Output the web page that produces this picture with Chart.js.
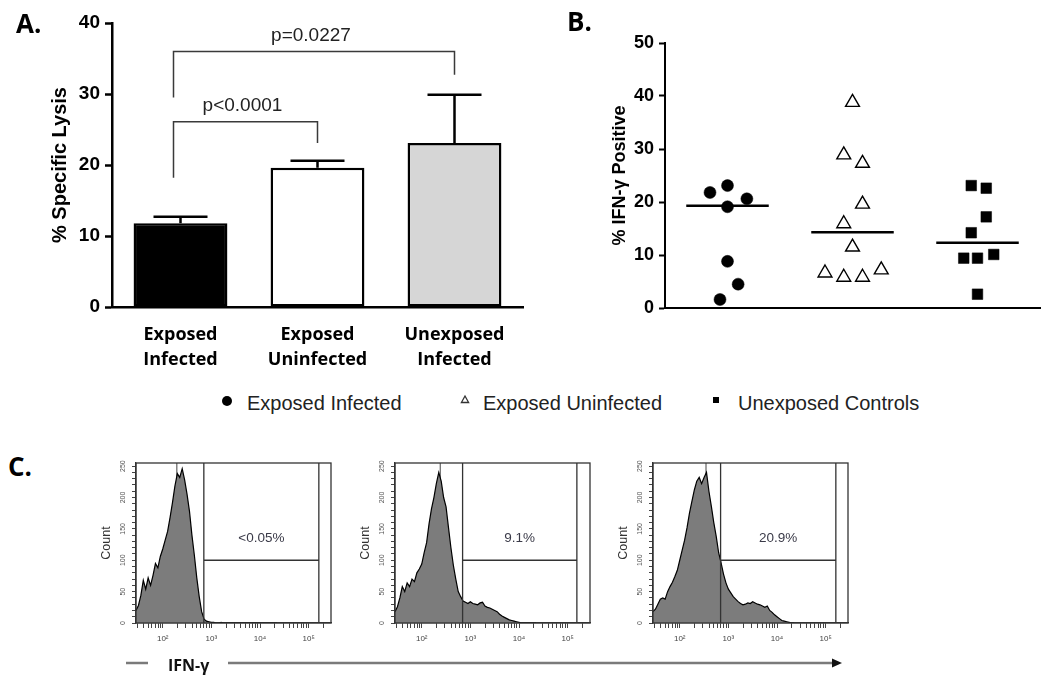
<!DOCTYPE html>
<html><head><meta charset="utf-8">
<script src="https://cdn.jsdelivr.net/npm/chart.js@4.4.0/dist/chart.umd.min.js"></script>
<style>
html,body{margin:0;padding:0;background:#fff;}
body{width:1050px;height:689px;overflow:hidden;position:relative;}
canvas{position:absolute;}
.pl{position:absolute;font-family:"Open Sans",sans-serif;font-weight:700;font-size:26px;line-height:26px;color:#000;}
.leg{position:absolute;font-family:"Liberation Sans",Arial,sans-serif;font-size:20px;line-height:20px;color:#222;white-space:nowrap;}
.ifn{position:absolute;font-family:"Open Sans",sans-serif;font-weight:700;font-size:16px;line-height:20px;color:#111;white-space:nowrap;}
</style></head><body>
<canvas id="cA" width="540" height="380" style="left:0;top:0;width:540px;height:380px"></canvas>
<canvas id="cB" width="510" height="380" style="left:540px;top:0;width:510px;height:380px"></canvas>
<canvas id="cH0" width="260" height="205" style="left:90px;top:450px;width:260px;height:205px"></canvas>
<canvas id="cH1" width="260" height="205" style="left:349px;top:450px;width:260px;height:205px"></canvas>
<canvas id="cH2" width="260" height="205" style="left:607px;top:450px;width:260px;height:205px"></canvas>

<div class="pl" style="left:16px;top:10px">A.</div>
<div class="pl" style="left:567px;top:8px">B.</div>
<div class="pl" style="left:8px;top:453px">C.</div>

<svg style="position:absolute;left:0;top:385px" width="1050" height="30">
  <circle cx="227" cy="16" r="5" fill="#000"/>
  <polygon points="465,11 468.6,17.5 461.4,17.5" fill="#fff" stroke="#333" stroke-width="1.3"/>
  <rect x="713" y="12" width="6" height="6" fill="#000"/>
</svg>
<div class="leg" style="left:247px;top:393px">Exposed Infected</div>
<div class="leg" style="left:483px;top:393px">Exposed Uninfected</div>
<div class="leg" style="left:738px;top:393px">Unexposed Controls</div>

<svg style="position:absolute;left:0;top:650px" width="1050" height="30">
  <line x1="126" y1="13" x2="148" y2="13" stroke="#7a7a7a" stroke-width="2.5"/>
  <line x1="228" y1="13" x2="834" y2="13" stroke="#7a7a7a" stroke-width="2.5"/>
  <polygon points="832,8.5 842,13 832,17.5" fill="#111"/>
</svg>
<div class="ifn" style="left:168px;top:655px">IFN-γ</div>

<script>
// ---------- Panel A data ----------
const groupsA = [['Exposed','Infected'],['Exposed','Uninfected'],['Unexposed','Infected']];
const lysisMean = [11.8, 19.6, 23.1];
const lysisSEM  = [0.9, 1.0, 6.8];
const barFills  = ['#000000', '#ffffff', '#d6d6d6'];
const pLabels   = ['p<0.0001', 'p=0.0227'];
const pFrom     = [0, 0];
const pTo       = [1, 2];
const pBarY     = [26.1, 36.0];
const pLegFromY = [18.2, 29.5];
const pLegToY   = [23.1, 32.7];

// ---------- Panel B data ----------
const groupsB = ['Exposed Infected', 'Exposed Uninfected', 'Unexposed Controls'];
const ifnInfected         = [21.8, 23.1, 20.6, 19.1, 8.8, 4.5, 1.6];
const ifnInfectedJitter   = [-0.14, 0, 0.155, 0, 0, 0.085, -0.06];
const ifnUninfected       = [38.8, 28.9, 27.3, 19.6, 15.9, 11.5, 6.6, 5.8, 5.8, 7.2];
const ifnUninfectedJitter = [0, -0.07, 0.08, 0.08, -0.07, 0, -0.22, -0.07, 0.08, 0.23];
const ifnControls         = [23.1, 22.6, 17.2, 14.2, 9.4, 9.4, 10.1, 2.6];
const ifnControlsJitter   = [-0.05, 0.07, 0.07, -0.05, -0.11, 0, 0.13, 0];
const ifnLines            = [19.3, 14.3, 12.3];

// ---------- Panel C data (log10 IFN-γ bins, counts) ----------
const histBins = [1.45,1.50,1.55,1.60,1.65,1.70,1.75,1.80,1.85,1.90,1.95,2.00,2.05,2.10,2.15,2.20,2.25,2.30,2.35,2.40,
  2.45,2.50,2.55,2.60,2.65,2.70,2.75,2.80,2.85,2.90,2.95,3.00,3.05,3.10,3.15,3.20,3.25,3.30,3.35,3.40,
  3.45,3.50,3.55,3.60,3.65,3.70,3.75,3.80,3.85,3.90,3.95,4.00,4.05,4.10,4.15,4.20,4.25,4.30,4.35];
const histInfected = [20,28,44,68,54,72,60,76,95,88,106,118,132,146,168,192,218,238,232,246,
  228,205,178,140,108,72,42,18,6,3,2,1,1,0,0,1,0,0,0,0,
  0,0,0,0,0,0,0,0,0,0,0,0,0,0,0,0,0,0,0];
const histUninfected = [18,26,40,58,50,64,58,70,66,80,86,94,112,128,158,182,200,222,240,226,
  200,185,152,120,92,70,50,42,35,33,31,34,31,30,29,32,33,27,25,24,
  22,20,18,14,11,9,7,5,4,3,2,1,0,0,0,0,0,0,0];
const histControl = [18,22,30,38,40,38,50,58,65,74,84,100,116,132,152,175,194,212,226,232,
  222,232,240,210,186,160,138,112,96,78,64,54,48,42,38,34,31,29,30,32,
  31,34,32,30,29,27,25,27,20,17,13,10,7,4,3,2,1,0,0];
const histSeries  = [histInfected, histUninfected, histControl];
const gateLabels  = ['<0.05%', '9.1%', '20.9%'];
const gateLow     = [2.845, 2.84, 2.84];
const gateHigh    = [5.21, 5.19, 5.21];
const gateCount   = [100, 100, 100];
const peakMarker  = [2.29, 2.38, 2.54];
const histXTickLabels = {2:'10²', 3:'10³', 4:'10⁴', 5:'10⁵'};

const SANS = "'Liberation Sans', Arial, sans-serif";
const OPEN = "'Open Sans', sans-serif";

// ---------- Panel A ----------
const annotA = {
  id: 'annotA',
  afterDatasetsDraw(chart) {
    const {ctx, scales: {x, y}} = chart;
    ctx.save();
    ctx.strokeStyle = '#000'; ctx.lineWidth = 2.5;
    lysisMean.forEach((m, i) => {
      const px = x.getPixelForValue(i);
      const y0 = y.getPixelForValue(m), y1 = y.getPixelForValue(m + lysisSEM[i]);
      ctx.beginPath();
      ctx.moveTo(px, y0); ctx.lineTo(px, y1);
      ctx.moveTo(px - 27, y1); ctx.lineTo(px + 27, y1);
      ctx.stroke();
    });
    ctx.strokeStyle = '#3a3a3a'; ctx.lineWidth = 1.5;
    ctx.fillStyle = '#222'; ctx.font = "19px " + SANS;
    ctx.textAlign = 'center'; ctx.textBaseline = 'middle';
    pLabels.forEach((lab, k) => {
      const xa = x.getPixelForValue(pFrom[k]) - 7, xb = x.getPixelForValue(pTo[k]);
      const yb = y.getPixelForValue(pBarY[k]);
      ctx.beginPath();
      ctx.moveTo(xa, y.getPixelForValue(pLegFromY[k]));
      ctx.lineTo(xa, yb); ctx.lineTo(xb, yb);
      ctx.lineTo(xb, y.getPixelForValue(pLegToY[k]));
      ctx.stroke();
      ctx.fillText(lab, (xa + xb) / 2 - 3, yb - 16);
    });
    ctx.restore();
  }
};

new Chart(document.getElementById('cA'), {
  type: 'bar',
  data: { labels: groupsA, datasets: [{
    data: lysisMean, backgroundColor: barFills, borderColor: '#000', borderWidth: 2.5,
    borderSkipped: false, barPercentage: 0.685, categoryPercentage: 1
  }]},
  options: {
    responsive: false, animation: false, devicePixelRatio: 1,
    layout: { padding: { left: 48, top: 23, right: 17, bottom: 0 } },
    plugins: { legend: { display: false }, tooltip: { enabled: false } },
    scales: {
      x: {
        grid: { display: false, drawTicks: false },
        border: { display: true, color: '#000', width: 2.5 },
        ticks: { color: '#000', autoSkip: false, maxRotation: 0, padding: 15,
          font: { family: OPEN, size: 18, weight: 'bold', lineHeight: 1.42 } },
        afterFit: s => { s.height = 73; }
      },
      y: {
        min: 0, max: 40,
        ticks: { stepSize: 10, color: '#000', padding: 5, font: { family: SANS, size: 19, weight: 'bold' } },
        grid: { display: true, drawOnChartArea: false, drawTicks: true, tickLength: 7, tickColor: '#000', tickWidth: 2.5 },
        border: { display: true, color: '#000', width: 2.5 },
        title: { display: true, text: '% Specific Lysis', color: '#000', padding: 0,
          font: { family: SANS, size: 20, weight: 'bold' } },
        afterFit: s => { s.width = 64; }
      }
    }
  },
  plugins: [annotA]
});

// ---------- Panel B ----------
const toPts = (vals, jit, c) => vals.map((v, i) => ({ x: c + jit[i], y: v }));
const lineSeg = (c, v) => [{ x: c - 0.33, y: v }, { x: c + 0.33, y: v }];

new Chart(document.getElementById('cB'), {
  type: 'scatter',
  data: { datasets: [
    { label: groupsB[0], data: toPts(ifnInfected, ifnInfectedJitter, 0.5), pointStyle: 'circle', pointRadius: 6,
      backgroundColor: '#000', borderColor: '#000', borderWidth: 0.5, clip: false },
    { label: groupsB[1], data: toPts(ifnUninfected, ifnUninfectedJitter, 1.5), pointStyle: 'triangle', pointRadius: 8,
      backgroundColor: '#fff', borderColor: '#000', borderWidth: 1.4, clip: false },
    { label: groupsB[2], data: toPts(ifnControls, ifnControlsJitter, 2.5), pointStyle: 'rect', pointRadius: 7.5,
      backgroundColor: '#000', borderColor: '#000', borderWidth: 0.5, clip: false },
    ...ifnLines.map((v, i) => ({ data: lineSeg(i + 0.5, v), showLine: true, borderColor: '#000', borderWidth: 2.5,
      pointRadius: 0, clip: false }))
  ]},
  options: {
    responsive: false, animation: false, devicePixelRatio: 1,
    layout: { padding: { left: 69, top: 43, right: 10, bottom: 72 } },
    plugins: { legend: { display: false }, tooltip: { enabled: false } },
    scales: {
      x: {
        type: 'linear', min: 0, max: 3,
        ticks: { display: false }, grid: { display: false },
        border: { display: true, color: '#000', width: 2 },
        afterFit: s => { s.height = 0; }
      },
      y: {
        min: 0, max: 50,
        ticks: { stepSize: 10, color: '#000', padding: 5, font: { family: SANS, size: 18, weight: 'bold' } },
        grid: { display: true, drawOnChartArea: false, tickLength: 6, tickColor: '#000', tickWidth: 2 },
        border: { display: true, color: '#000', width: 2 },
        title: { display: true, text: '% IFN-γ Positive', color: '#000', padding: 0,
          font: { family: SANS, size: 18, weight: 'bold' } },
        afterFit: s => { s.width = 56; }
      }
    }
  }
});

// ---------- Panel C ----------
const histTickVals = [];
for (let e = 1; e <= 5; e++) for (let k = 1; k <= 9; k++) {
  const v = Math.log10(k * Math.pow(10, e));
  if (v >= 1.45 && v <= 5.46) histTickVals.push(v);
}

histSeries.forEach((counts, i) => {
  const gatePlugin = {
    id: 'gate' + i,
    beforeDatasetsDraw(chart) {
      const { ctx, chartArea: a, scales: { x } } = chart;
      const px = x.getPixelForValue(peakMarker[i]);
      ctx.save(); ctx.strokeStyle = '#444'; ctx.lineWidth = 1;
      ctx.beginPath(); ctx.moveTo(px, a.top); ctx.lineTo(px, a.bottom); ctx.stroke();
      ctx.restore();
    },
    afterDatasetsDraw(chart) {
      const { ctx, chartArea: a, scales: { x, y } } = chart;
      const x0 = x.getPixelForValue(gateLow[i]), x1 = x.getPixelForValue(gateHigh[i]);
      const gy = y.getPixelForValue(gateCount[i]);
      ctx.save();
      ctx.strokeStyle = '#333'; ctx.lineWidth = 1.3;
      ctx.beginPath();
      ctx.moveTo(x0, a.top); ctx.lineTo(x0, a.bottom);
      ctx.moveTo(x1, a.top); ctx.lineTo(x1, a.bottom);
      ctx.moveTo(x0, gy); ctx.lineTo(x1, gy);
      ctx.stroke();
      ctx.strokeRect(a.left, a.top, a.right - a.left, a.bottom - a.top);
      ctx.fillStyle = '#3a3a48'; ctx.font = "13.5px " + SANS;
      ctx.textAlign = 'center'; ctx.textBaseline = 'middle';
      ctx.fillText(gateLabels[i], (x0 + x1) / 2, gy - 22);
      ctx.restore();
    }
  };
  new Chart(document.getElementById('cH' + i), {
    type: 'line',
    data: { datasets: [{
      data: histBins.map((b, j) => ({ x: b, y: counts[j] })),
      borderColor: '#000', borderWidth: 1.2, backgroundColor: '#7c7c7c', fill: 'origin',
      pointRadius: 0, tension: 0
    }]},
    options: {
      responsive: false, animation: false, devicePixelRatio: 1,
      layout: { padding: { left: 9, top: 13, right: 19, bottom: 7 } },
      plugins: { legend: { display: false }, tooltip: { enabled: false } },
      scales: {
        x: {
          type: 'linear', min: 1.45, max: 5.46,
          afterBuildTicks: s => { s.ticks = histTickVals.map(v => ({ value: v })); },
          ticks: { autoSkip: false, maxRotation: 0, padding: 6, color: '#444',
            font: { family: SANS, size: 8 },
            callback: v => { const r = Math.round(v); return Math.abs(v - r) < 1e-6 && histXTickLabels[r] ? histXTickLabels[r] : ''; } },
          grid: { display: true, drawOnChartArea: false, tickLength: 5, tickColor: '#444', tickWidth: 1 },
          border: { display: true, color: '#333', width: 1.3 },
          afterFit: s => { s.height = 25; }
        },
        y: {
          min: 0, max: 255,
          ticks: { stepSize: 10, includeBounds: false, autoSkip: false, minRotation: 90, maxRotation: 90,
            crossAlign: 'center', padding: 3, color: '#555', font: { family: SANS, size: 7 },
            callback: v => (v % 50 === 0 ? String(v) : '') },
          grid: { display: true, drawOnChartArea: false, tickLength: 4, tickColor: '#444', tickWidth: 1 },
          border: { display: true, color: '#333', width: 1.3 },
          title: { display: true, text: 'Count', color: '#333', padding: 0, font: { family: SANS, size: 12.5 } },
          afterFit: s => { s.width = 37; }
        }
      }
    },
    plugins: [gatePlugin]
  });
});
</script>
</body></html>
